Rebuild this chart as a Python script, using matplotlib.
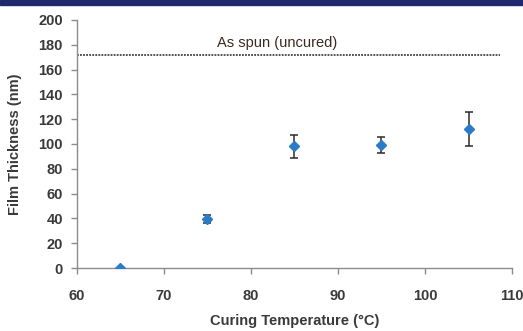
import matplotlib
matplotlib.use("Agg")
import matplotlib.pyplot as plt
from matplotlib.patches import Rectangle

# data
temps = [65, 75, 85, 95, 105]
thickness = [0, 39.5, 98, 99.5, 112]
err = [0, 3, 9.5, 6.5, 14]
as_spun = 172
as_spun_span = [60, 108.6]

plt.rcParams['font.family'] = ['Liberation Sans', 'DejaVu Sans']
text_col = '#3a3a3a'
axis_col = '#8c8c8c'

fig = plt.figure(figsize=(5.23, 3.31), dpi=100)
fig.patches.append(Rectangle((0, 1 - 4.5 / 331), 1, 4.5 / 331, transform=fig.transFigure,
                             color='#1f2a6e', zorder=0))
ax = fig.add_axes([0.147, 0.190, 0.832, 0.750])

ax.hlines(as_spun, as_spun_span[0], as_spun_span[1], colors='#222222',
          linestyles=(0, (1.2, 0.8)), linewidth=1.1)
ax.text(83, as_spun + 4, 'As spun (uncured)', ha='center', va='bottom',
        fontsize=10.5, color='#3a2a20')

ax.errorbar(temps, thickness, yerr=err, fmt='D', color='#2a7cc7', markersize=5.5,
            ecolor='#2b2b2b', elinewidth=1.1, capsize=3, capthick=1.1, zorder=3)

ax.set_xlim(60, 110)
ax.set_ylim(0, 200)
ax.set_xticks(range(60, 111, 10))
ax.set_yticks(range(0, 201, 20))

for side in ['top', 'right']:
    ax.spines[side].set_visible(False)
for side in ['left', 'bottom']:
    ax.spines[side].set_color(axis_col)
    ax.spines[side].set_linewidth(1.0)

ax.tick_params(axis='both', colors=axis_col, labelcolor=text_col, labelsize=10.5,
               direction='out', length=4, width=1.0)
ax.tick_params(axis='x', pad=11)
ax.tick_params(axis='y', pad=6)
for lbl in ax.get_xticklabels() + ax.get_yticklabels():
    lbl.set_fontweight('bold')

ax.set_xlabel('Curing Temperature (°C)', fontsize=10.5, fontweight='bold', color=text_col, labelpad=8)
ax.set_ylabel('Film Thickness (nm)', fontsize=10.5, fontweight='bold', color=text_col, labelpad=12)

fig.savefig('out.png', dpi=100)
